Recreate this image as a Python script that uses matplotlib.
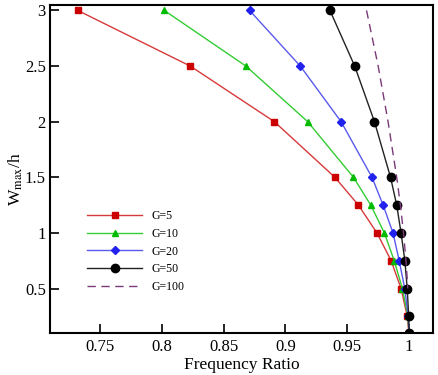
import matplotlib
matplotlib.use('Agg')
import matplotlib.pyplot as plt

plt.rcParams['font.family'] = ['Liberation Serif', 'DejaVu Serif']
plt.rcParams['mathtext.fontset'] = 'stix'

# amplitude values (y) and frequency ratios (x) for each G
w = [3, 2.5, 2, 1.5, 1.25, 1, 0.75, 0.5, 0.25, 0.1]
fr_g5 = [0.732, 0.823, 0.891, 0.940, 0.959, 0.974, 0.9855, 0.9935, 0.9985, 0.9998]
fr_g10 = [0.802, 0.868, 0.918, 0.955, 0.969, 0.980, 0.988, 0.9946, 0.999, 1.0]
fr_g20 = [0.871, 0.912, 0.945, 0.970, 0.979, 0.987, 0.992, 0.9965, 0.9993, 1.0]
fr_g50 = [0.936, 0.956, 0.972, 0.985, 0.990, 0.9935, 0.9966, 0.9985, 0.9997, 1.0]
w100 = [3, 2.5, 2, 1.5, 1.25, 1, 0.75, 0.5]
fr_g100 = [0.9656, 0.975, 0.983, 0.990, 0.993, 0.9955, 0.9975, 0.999]

fig = plt.figure(figsize=(4.38, 3.75), dpi=100)
ax = fig.add_axes([0.114, 0.112, 0.875, 0.875])

ax.plot(fr_g5, w, color='#d63a3a', lw=1, marker='s', ms=4.5, mfc='#cc0000', mec='#cc0000', label='G=5')
ax.plot(fr_g10, w, color='#33cc33', lw=1, marker='^', ms=5, mfc='#00bb00', mec='#00bb00', label='G=10')
ax.plot(fr_g20, w, color='#5a5aee', lw=1, marker='D', ms=4.3, mfc='#2222ee', mec='#2222ee', label='G=20')
ax.plot(fr_g50, w, color='#222222', lw=1, marker='o', ms=6, mfc='black', mec='black', label='G=50')
ax.plot(fr_g100, w100, color='#7a3a7a', lw=1, ls=(0, (6, 4)), label='G=100')

ax.set_xlim(0.7095, 1.0195)
ax.set_ylim(0.1, 3.05)
ax.set_xticks([0.75, 0.8, 0.85, 0.9, 0.95, 1])
ax.set_xticklabels(['0.75', '0.8', '0.85', '0.9', '0.95', '1'])
ax.set_yticks([0.5, 1, 1.5, 2, 2.5, 3])
ax.set_yticklabels(['0.5', '1', '1.5', '2', '2.5', '3'])
ax.tick_params(direction='in', length=6.5, width=1.2, labelsize=12, top=False, right=False)
ax.tick_params(axis='x', pad=4)
ax.tick_params(axis='y', pad=3)
for s in ax.spines.values():
    s.set_linewidth(1.5)

ax.set_xlabel('Frequency Ratio', fontsize=12.5, labelpad=2)
ax.set_ylabel(r'W$_{\rm max}$/h', fontsize=12.5)
ax.yaxis.set_label_coords(-0.066, 0.47)

ax.legend(loc='upper left', bbox_to_anchor=(0.07, 0.408), frameon=False, fontsize=8.5,
          handlelength=4.6, labelspacing=0.5, handletextpad=0.8)

fig.savefig('out.png', dpi=100)
